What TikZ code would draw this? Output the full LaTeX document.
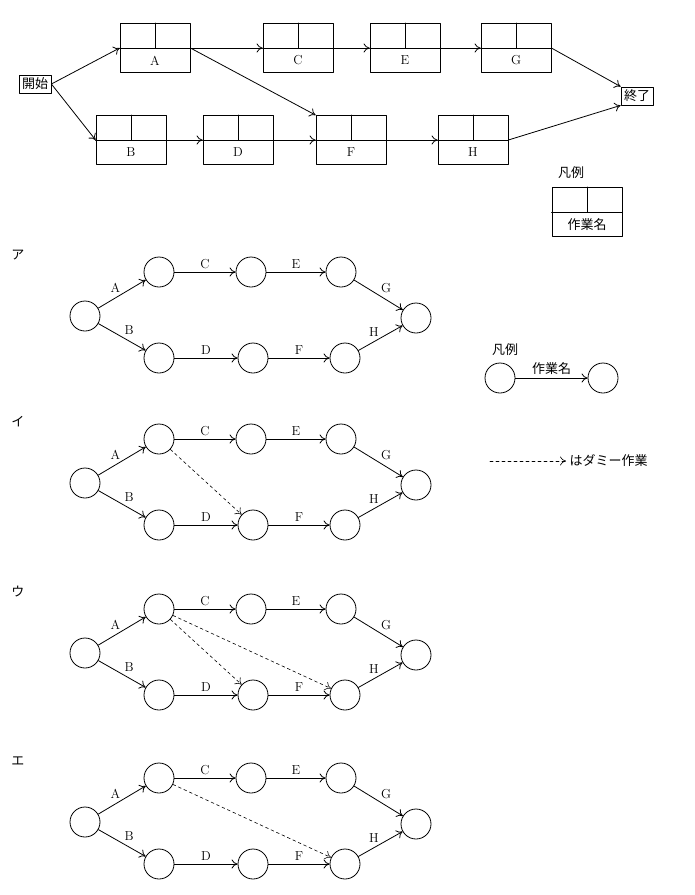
\documentclass[tikz,border=0pt]{standalone}
\usepackage{fontspec}
\newfontfamily\cjk{Noto Sans CJK JP}
\usetikzlibrary{calc,arrows.meta}
\def\r{15}
\def\bw{70}
\def\bh{49}

\begin{document}
\begin{tikzpicture}[x=1pt, y=-1pt, line cap = round, line join = round, line width=0.8pt,
		>={To[length=6pt,width=9pt]},
		every node/.style={font=\fontsize{13}{15}\selectfont},
		jp/.style={font=\cjk\fontsize{13}{15}\selectfont},
		box/.style={draw, minimum width=\bw pt, minimum height=\bh pt, inner sep=0pt},
		term/.style={draw, inner sep=3pt, jp},
		ev/.style={draw, circle, minimum size=2*\r pt, inner sep=0pt},
		act/.style={draw, ->},
		dummy/.style={draw, dashed, line width=0.6pt, ->}]
		\useasboundingbox (0,0) rectangle (695,895);
		
		% Precedence diagram
		\node[term] (start) at (35,84) {開始};
		\node[term] (end) at (637,96) {終了};
		\foreach \n/\px/\py in {A/155/48, C/298/48, E/405/48, G/516/48, B/131/140, D/238/140, F/351/140, H/473/140} {
			\node[box] (\n) at (\px,\py) {};
			\draw (\n.west) -- (\n.east);
			\draw (\n.north) -- (\n.center);
			\node (\n lab) at ($(\n.center)!0.5!(\n.south)$) {\n};
		}
		% Legend box
		\node[box] (L) at (587,212) {};
		\draw (L.west) -- (L.east);
		\draw (L.north) -- (L.center);
		\node[jp] (Llab) at ($(L.center)!0.5!(L.south)$) {作業名};
		\node[jp] (Ltitle) at (571,173) {凡例};
		\draw[->] (start.east) -- (A.west);
		\draw[->] (start.east) -- (B.west);
		\draw[->] (A.east) -- (C.west);
		\draw[->] (A.east) -- (F.north west);
		\draw[->] (C.east) -- (E.west);
		\draw[->] (E.east) -- (G.west);
		\draw[->] (G.east) -- (end.north west);
		\draw[->] (B.east) -- (D.west);
		\draw[->] (D.east) -- (F.west);
		\draw[->] (F.east) -- (H.west);
		\draw[->] (H.east) -- (end.south west);
		
		% Arrow diagrams
		\foreach \k/\mark/\dy in {a/ア/0, b/イ/167, c/ウ/337, d/エ/506} {
			\node[jp] (m\k) at (18,255+\dy) {\mark};
			\node[ev] (\k0) at (85,316+\dy) {};
			\node[ev] (\k t1) at (159,272+\dy) {};
			\node[ev] (\k t2) at (251,272+\dy) {};
			\node[ev] (\k t3) at (341,272+\dy) {};
			\node[ev] (\k b1) at (159,358+\dy) {};
			\node[ev] (\k b2) at (253,358+\dy) {};
			\node[ev] (\k b3) at (345,358+\dy) {};
			\node[ev] (\k9) at (416,318+\dy) {};
			\draw[act] (\k0) -- node[above left=-2pt] {A} (\k t1);
			\draw[act] (\k0) -- node[above right=-1pt] {B} (\k b1);
			\draw[act] (\k t1) -- node[above] {C} (\k t2);
			\draw[act] (\k t2) -- node[above] {E} (\k t3);
			\draw[act] (\k t3) -- node[above right=-1pt] {G} (\k9);
			\draw[act] (\k b1) -- node[above] {D} (\k b2);
			\draw[act] (\k b2) -- node[above] {F} (\k b3);
			\draw[act] (\k b3) -- node[above left=-2pt] {H} (\k9);
		}
		\draw[dummy] (bt1) -- (bb2);
		\draw[dummy] (ct1) -- (cb2);
		\draw[dummy] (ct1) -- (cb3);
		\draw[dummy] (dt1) -- (db3);
		
		% Legend
		\node[jp] (Ltitle2) at (505,350) {凡例};
		\node[ev] (L1) at (500,378) {};
		\node[ev] (L2) at (603,378) {};
		\draw[act] (L1) -- node[above, jp] {作業名} (L2);
		\coordinate (D1) at (490,461);
		\node[jp, anchor=west] (Dtext) at (566,461) {はダミー作業};
		\draw[dummy] (D1) -- (Dtext.west);
\end{tikzpicture}
\end{document}
